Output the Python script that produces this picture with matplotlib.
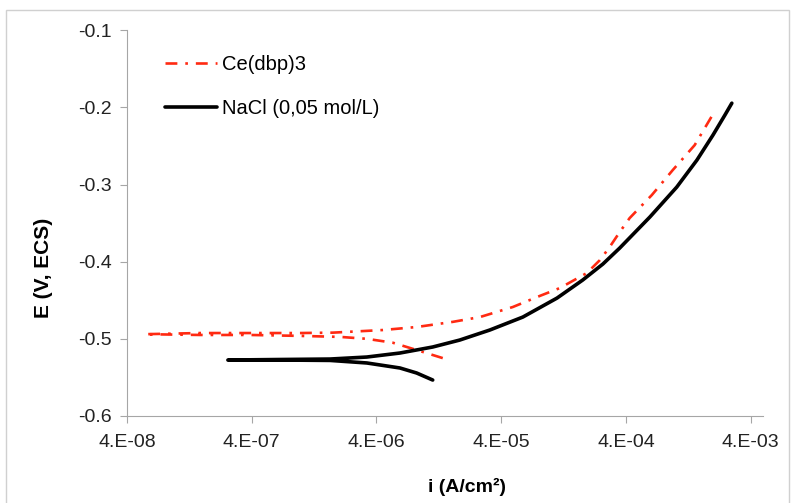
import numpy as np
import matplotlib; matplotlib.use('Agg')
import matplotlib.pyplot as plt
from matplotlib.patches import Rectangle

plt.rcParams['font.family'] = ['Liberation Sans', 'DejaVu Sans']

# Ce(dbp)3: cathodic end -> lower branch -> left tip -> upper (anodic) branch
ce_i = [1.36e-5, 8.4e-6, 5.4e-6, 3.35e-6, 2.04e-6, 9.7e-7, 3.9e-7, 1.54e-7, 5.6e-8,
        1.54e-7, 3.9e-7, 9.7e-7, 1.79e-6, 4.5e-6, 8.4e-6, 1.64e-5, 2.70e-5, 4.95e-5,
        8.1e-5, 1.18e-4, 1.94e-4, 2.47e-4, 2.96e-4, 3.56e-4, 4.28e-4, 6.44e-4,
        9.48e-4, 1.42e-3, 1.95e-3]
ce_E = [-0.525, -0.5145, -0.505, -0.500, -0.4975, -0.4962, -0.495, -0.495, -0.494,
        -0.4925, -0.4925, -0.4925, -0.4920, -0.4886, -0.4847, -0.478, -0.4718, -0.4588,
        -0.4446, -0.4342, -0.4148, -0.398, -0.381, -0.3617, -0.3435, -0.3137,
        -0.2813, -0.249, -0.2114]

# NaCl (0,05 mol/L)
na_i = [1.13e-5, 8.4e-6, 6.17e-6, 3.35e-6, 1.70e-6, 6.7e-7, 2.58e-7,
        6.7e-7, 1.70e-6, 3.35e-6, 6.17e-6, 1.13e-5, 1.86e-5, 3.24e-5, 5.96e-5,
        1.12e-4, 1.80e-4, 2.61e-4, 3.56e-4, 6.21e-4, 1.02e-3, 1.48e-3, 1.99e-3,
        2.48e-3, 2.82e-3]
na_E = [-0.5534, -0.5443, -0.5378, -0.5313, -0.528, -0.5275, -0.5275,
        -0.5268, -0.5262, -0.5236, -0.5184, -0.5106, -0.5016, -0.4886, -0.4718,
        -0.4472, -0.4238, -0.4031, -0.3824, -0.3422, -0.3034, -0.2684, -0.236,
        -0.2101, -0.1946]

xticks = [4e-8, 4e-7, 4e-6, 4e-5, 4e-4, 4e-3]
xticklabels = ['4.E-08', '4.E-07', '4.E-06', '4.E-05', '4.E-04', '4.E-03']
yticks = [-0.6, -0.5, -0.4, -0.3, -0.2, -0.1]

fig = plt.figure(figsize=(7.93, 5.03), dpi=100)
ax = fig.add_axes([0.160, 0.173, 0.802, 0.767])
fig.patches.append(Rectangle((6/793, -0.01), 783/793, 1 - 10/503 + 0.01,
                             transform=fig.transFigure, fill=False,
                             edgecolor='#d0d0d0', lw=1))

ax.plot(ce_i, ce_E, color='#ff2a12', lw=1.9, dashes=[4.5, 3.0, 1.0, 3.0],
        label='Ce(dbp)3')
ax.plot(na_i, na_E, color='black', lw=2.6, label='NaCl (0,05 mol/L)',
        solid_capstyle='round')

ax.set_xscale('log')
ax.set_xlim(4e-8, 5e-3)
ax.set_ylim(-0.6, -0.1)
ax.set_xticks(xticks)
ax.set_xticklabels(xticklabels)
ax.minorticks_off()
ax.set_yticks(yticks)
ax.set_yticklabels([f"{v:g}" for v in yticks])

for s in ['top', 'right']:
    ax.spines[s].set_visible(False)
for s in ['left', 'bottom']:
    ax.spines[s].set_color('#a6a6a6')
ax.tick_params(direction='out', length=5, color='#a6a6a6', labelsize=14,
               labelcolor='#222222')
ax.tick_params(axis='x', pad=8)
ax.tick_params(axis='y', pad=6)

ax.set_xlabel('i (A/cm²)', fontsize=14, fontweight='bold', va='center')
ax.set_ylabel('E (V, ECS)', fontsize=15, fontweight='bold')
ax.xaxis.set_label_coords(0.535, -0.184)
ax.yaxis.set_label_coords(-0.116, 0.383)

ax.legend(loc='upper left', bbox_to_anchor=(0.06, 0.935), frameon=False,
          fontsize=14.5, handlelength=2.6, handletextpad=0.25, labelspacing=1.25,
          borderpad=0, borderaxespad=0)

fig.savefig('out.png', dpi=100)
